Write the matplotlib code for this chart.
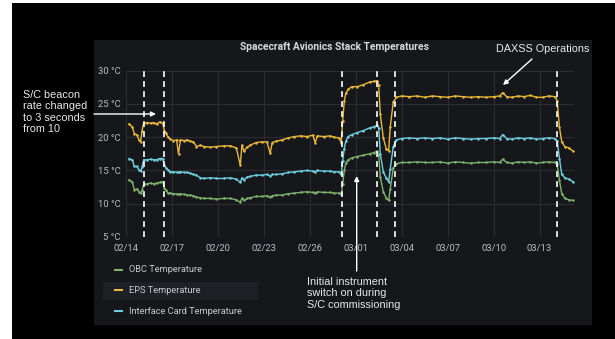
import matplotlib
matplotlib.use('Agg')
import matplotlib.pyplot as plt
import matplotlib.dates as mdates
from matplotlib.patches import Rectangle, FancyArrowPatch
from datetime import datetime, timedelta

# time of each sample, days after 2021-02-14 00:00
day_offsets = [0.2, 0.4, 0.55, 0.7, 0.85, 0.95, 1.05, 1.15, 1.4, 1.6, 1.8, 2.0, 2.2, 2.4, 2.5, 2.6,
               2.75, 2.9, 3.1, 3.3, 3.43, 3.55, 3.8, 4.0, 4.2, 4.4, 4.6, 4.85, 5.1, 5.5, 5.9, 6.4,
               6.8, 7.2, 7.46, 7.57, 7.7, 7.9, 8.1, 8.5, 8.9, 9.2, 9.41, 9.55, 9.8, 10.2, 10.6, 11.0,
               11.4, 11.8, 12.2, 12.35, 12.5, 12.9, 13.3, 13.6, 13.9, 14.05, 14.15, 14.25, 14.35, 14.5,
               14.75, 15.1, 15.5, 15.9, 16.2, 16.4, 16.5, 16.6, 16.8, 17.0, 17.15, 17.25, 17.45, 17.65,
               18.0, 18.5, 19.0, 19.5, 20.0, 20.5, 21.0, 21.5, 22.0, 22.5, 23.0, 23.5, 24.0, 24.4,
               24.6, 24.85, 25.2, 25.6, 26.0, 26.4, 26.8, 27.2, 27.6, 28.0, 28.15, 28.3, 28.45, 28.65,
               28.9, 29.2]

eps_temp = [22.0, 21.6, 20.5, 20.4, 19.6, 19.3, 21.0, 22.1, 22.2, 22.1, 22.2, 22.0, 22.3, 22.1, 21.0, 20.6,
            20.0, 19.7, 19.5, 19.6, 17.5, 19.6, 19.5, 19.6, 19.4, 19.3, 18.6, 18.8, 18.6, 18.5, 18.6, 18.7,
            18.7, 18.4, 15.8, 18.8, 17.9, 18.5, 18.8, 19.2, 19.3, 19.3, 17.6, 19.2, 19.4, 19.6, 19.9, 20.1,
            20.2, 20.1, 20.3, 19.2, 20.2, 20.1, 20.2, 20.0, 19.9, 19.2, 22.5, 25.4, 26.6, 27.2,
            27.6, 27.6, 27.9, 28.3, 28.4, 28.5, 27.8, 23.5, 19.9, 18.2, 18.0, 21.5, 25.3, 26.0,
            26.2, 26.1, 26.2, 26.0, 26.2, 26.1, 26.0, 26.2, 26.1, 26.0, 26.1, 26.0, 26.1, 26.2,
            26.7, 26.1, 26.0, 26.2, 26.1, 26.3, 26.0, 26.0, 26.2, 26.1, 25.5, 21.5, 19.3, 18.6,
            18.4, 17.9]

iface_temp = [16.8, 16.6, 15.6, 15.6, 15.1, 14.9, 15.5, 16.6, 16.6, 16.7, 16.6, 16.6, 16.8, 16.8, 15.8, 15.4,
              15.1, 14.8, 14.8, 14.7, 14.7, 14.8, 14.7, 14.7, 14.6, 14.4, 14.3, 13.9, 13.8, 13.9, 13.8, 13.8,
              13.9, 13.7, 13.2, 13.9, 13.6, 14.0, 14.1, 14.3, 14.3, 14.4, 14.2, 14.4, 14.4, 14.5, 14.7, 14.8,
              14.9, 15.0, 14.9, 14.8, 15.0, 14.9, 14.9, 14.8, 14.8, 14.4, 16.5, 18.3, 19.4, 20.1,
              20.4, 20.7, 21.0, 21.4, 21.6, 21.8, 21.4, 17.5, 14.8, 13.8, 13.3, 15.2, 18.6, 19.6,
              19.8, 19.9, 19.8, 19.9, 19.8, 19.9, 19.7, 19.9, 19.8, 19.7, 19.8, 19.8, 19.9, 19.8,
              20.4, 19.8, 19.7, 19.9, 19.8, 19.9, 19.7, 19.8, 19.9, 19.8, 19.5, 16.8, 14.4, 13.9,
              13.7, 13.3]

obc_temp = [13.6, 13.3, 12.1, 12.2, 11.8, 11.6, 12.0, 12.9, 13.0, 13.1, 13.0, 13.1, 13.2, 13.3, 12.3, 12.0,
            11.6, 11.6, 11.5, 11.5, 11.4, 11.5, 11.4, 11.3, 11.3, 11.2, 11.0, 10.9, 10.8, 10.8, 10.7, 10.8,
            10.8, 10.6, 10.2, 10.8, 10.5, 10.8, 10.9, 11.1, 11.1, 11.2, 11.0, 11.2, 11.3, 11.3, 11.5, 11.6,
            11.7, 11.8, 11.7, 11.6, 11.8, 11.7, 11.7, 11.6, 11.6, 11.4, 13.0, 15.0, 16.1, 16.6,
            16.9, 17.1, 17.3, 17.5, 17.7, 17.9, 17.4, 14.0, 11.8, 10.8, 10.5, 12.2, 15.4, 16.0,
            16.2, 16.2, 16.3, 16.2, 16.2, 16.3, 16.1, 16.3, 16.2, 16.1, 16.2, 16.2, 16.3, 16.2,
            16.7, 16.2, 16.1, 16.3, 16.2, 16.3, 16.1, 16.2, 16.3, 16.2, 16.0, 13.5, 11.5, 10.8,
            10.6, 10.5]

series_names = ['OBC Temperature', 'EPS Temperature', 'Interface Card Temperature']
series_colors = ['#7EB26D', '#EAB839', '#6ED0E0']

event_times = ['2021-02-15 03:40', '2021-02-16 11:00', '2021-02-28 02:00',
               '2021-03-02 10:00', '2021-03-03 14:00', '2021-03-14 03:40']
tick_dates = ['02/14', '02/17', '02/20', '02/23', '02/26', '03/01', '03/04', '03/07', '03/10', '03/13']
y_ticks = [5, 10, 15, 20, 25, 30]

W, H = 615, 339
start = datetime(2021, 2, 14)
times = [start + timedelta(days=d) for d in day_offsets]

plt.rcParams['font.family'] = ['Roboto', 'DejaVu Sans']

fig = plt.figure(figsize=(W / 100, H / 100), dpi=100, facecolor='white')
# black screenshot background and dark grafana panel
fig.patches.append(Rectangle((12 / W, 0), 1, (H - 3) / H, transform=fig.transFigure,
                             facecolor='black', edgecolor='none', zorder=0))
fig.patches.append(Rectangle((94 / W, 1 - 325 / H), (592 - 94) / W, (325 - 40) / H,
                             transform=fig.transFigure, facecolor='#16171b', edgecolor='none', zorder=1))
fig.patches.append(Rectangle((103 / W, 1 - 300 / H), (258 - 103) / W, (300 - 281.5) / H,
                             transform=fig.transFigure, facecolor='#1e2025', edgecolor='none', zorder=2))

ax = fig.add_axes([126 / W, 1 - 237 / H, (574 - 126) / W, (237 - 70.7) / H])
ax.set_zorder(3)
ax.set_facecolor('#16171b')
for s in ax.spines.values():
    s.set_visible(False)

for vals, name, col in zip([obc_temp, eps_temp, iface_temp], series_names, series_colors):
    ax.plot(times, vals, color=col, lw=1.0, marker='o', ms=1.8, mew=0, label=name, zorder=3)

for t in event_times:
    ax.axvline(datetime.strptime(t, '%Y-%m-%d %H:%M'), color='white', lw=1.2,
               ls=(0, (3.5, 2.5)), zorder=4)

ax.set_ylim(5, 30)
ax.set_xlim(start, start + timedelta(days=29.25))
ax.set_yticks(y_ticks)
ax.set_yticklabels(['{} °C'.format(v) for v in y_ticks])
ax.set_xticks([mdates.date2num(datetime.strptime('2021/' + d, '%Y/%m/%d')) for d in tick_dates])
ax.set_xticklabels(tick_dates)
ax.tick_params(length=0, colors='#b9bcc1', labelsize=6.8)
ax.tick_params(axis='y', pad=4)
ax.tick_params(axis='x', pad=5)
ax.grid(True, color='#2b2d32', lw=0.8)
ax.set_axisbelow(True)

fig.text(335 / W, 1 - 47.5 / H, 'Spacecraft Avionics Stack Temperatures', ha='center', va='center',
         fontsize=7.4, fontweight='bold', color='#d8d9da', zorder=5)

# legend drawn by hand below the plot
for i, (name, col) in enumerate(zip(series_names, series_colors)):
    y = 1 - (269.5 + i * 20.8) / H
    fig.add_artist(plt.Line2D([115 / W, 122 / W], [y, y], color=col, lw=1.5, transform=fig.transFigure, zorder=5))
    fig.text(129 / W, y, name, ha='left', va='center', fontsize=6.7, color='#c7c9cc', zorder=5)

# annotations
txt = dict(color='#e8e8e8', fontsize=7.8, family='Liberation Sans', zorder=6)
fig.text(23 / W, 1 - 112 / H, 'S/C beacon\nrate changed\nto 3 seconds\nfrom 10', ha='left', va='center',
         linespacing=1.2, **txt)
fig.text(496 / W, 1 - 48.5 / H, 'DAXSS Operations', ha='left', va='center', **txt)
fig.text(307 / W, 1 - 293.5 / H, 'Initial instrument\nswitch on during\nS/C commissioning', ha='left',
         va='center', linespacing=1.15, **txt)

arrows = [((94, 114), (156, 114)), ((532, 59), (503, 85)), ((356.7, 271), (356.7, 176))]
for (x0, y0), (x1, y1) in arrows:
    fig.add_artist(FancyArrowPatch((x0 / W, 1 - y0 / H), (x1 / W, 1 - y1 / H), transform=fig.transFigure,
                                   arrowstyle='-|>', mutation_scale=7, color='white', lw=1.0,
                                   shrinkA=0, shrinkB=0, zorder=7))

fig.savefig('out.png', dpi=100)
